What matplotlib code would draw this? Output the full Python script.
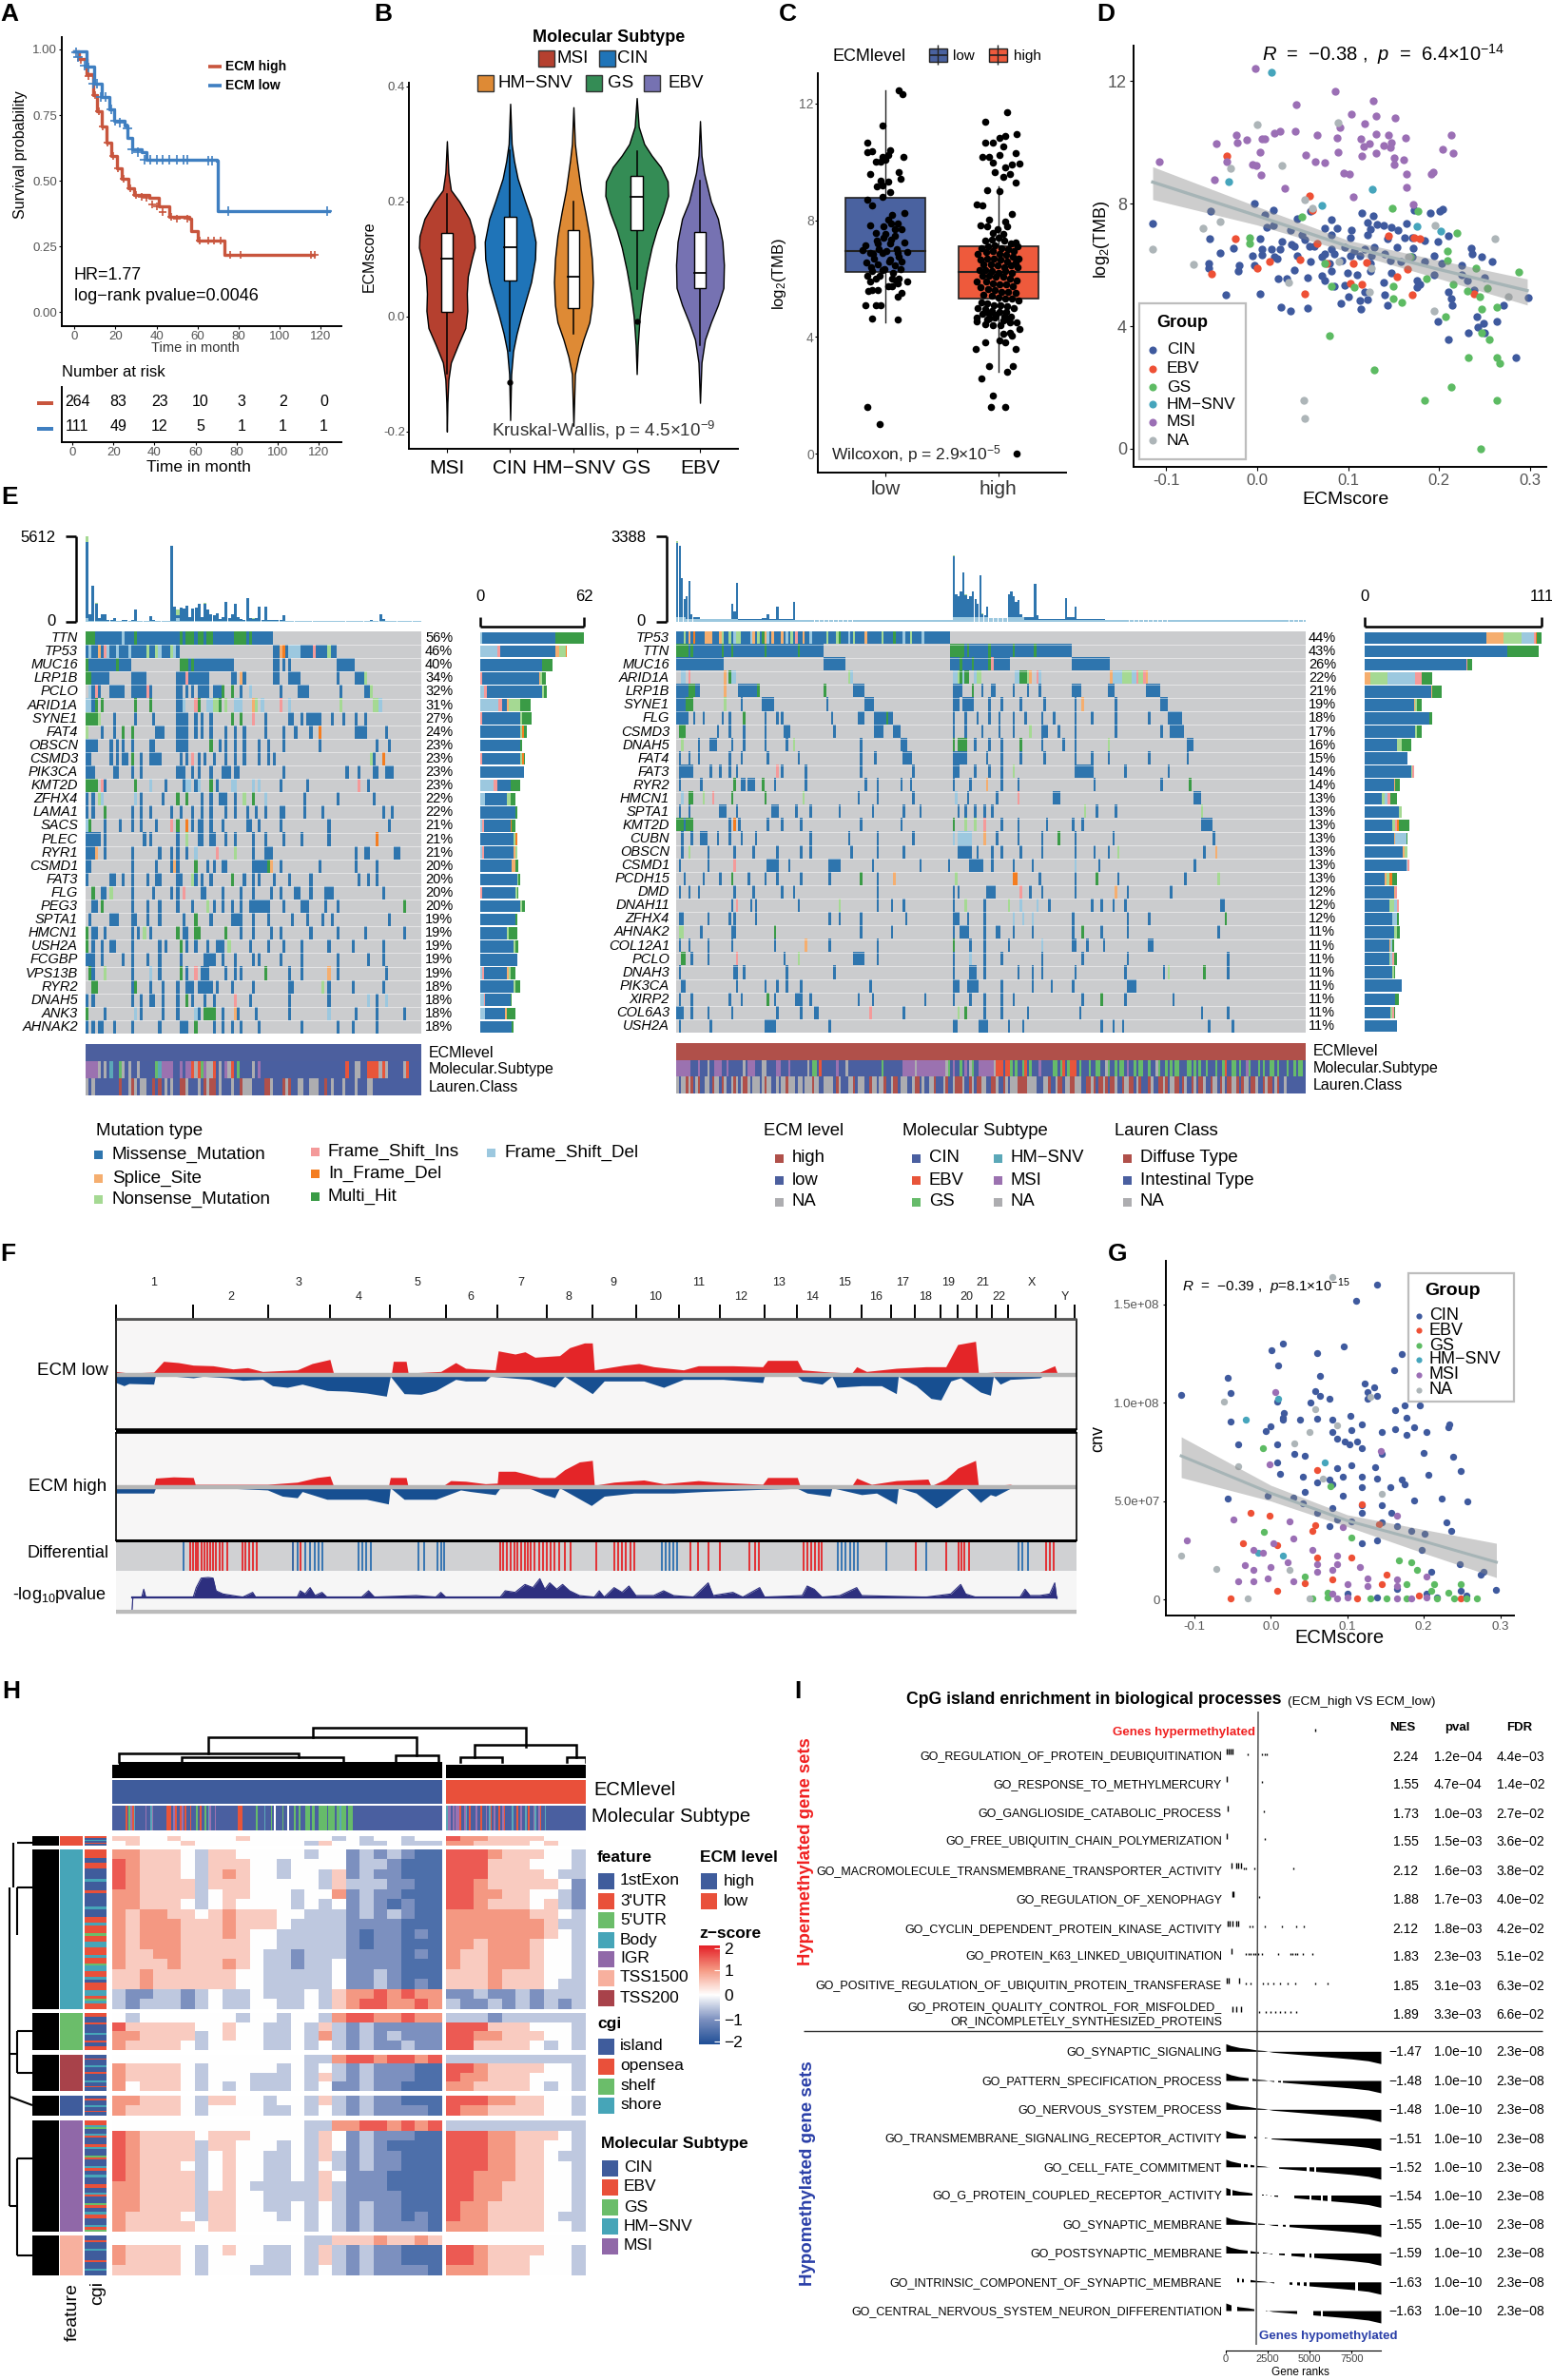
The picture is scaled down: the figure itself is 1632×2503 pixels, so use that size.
import re
import numpy as np
import matplotlib
matplotlib.use('Agg')
import matplotlib.pyplot as plt
import matplotlib.patches as patches
import matplotlib.colors as mcolors
from matplotlib.cm import ScalarMappable

plt.rcParams['font.family'] = ['Liberation Sans', 'DejaVu Sans']
plt.rcParams['mathtext.fontset'] = 'custom'
plt.rcParams['mathtext.rm'] = 'Liberation Sans'
plt.rcParams['mathtext.it'] = 'Liberation Sans:italic'
plt.rcParams['mathtext.bf'] = 'Liberation Sans:bold'
plt.rcParams['mathtext.default'] = 'regular'

W, H = 1633, 2503

# ---- A: survival
km_high_t = [0, 2.4, 6, 9.2, 11, 13.4, 15.8, 18.2, 20.6, 23, 26.2, 29, 36.4, 41.3, 46, 56, 57, 60, 72, 73, 116.6]
km_high_s = [.994, .964, .904, .825, .765, .705, .645, .596, .548, .506, .47, .446, .434, .404, .361, .355, .307, .273, .271, .219, .219]
km_low_t = [0, 6, 9.7, 13.4, 17, 19.4, 24.3, 26, 28, 32.8, 35.2, 69.2, 69.7, 123.9]
km_low_s = [.994, .934, .868, .819, .771, .729, .711, .663, .621, .608, .578, .576, .386, .386]
cens_high_t = [3, 7, 10, 12, 14, 16, 19, 21, 24, 27, 30, 33, 35, 38, 40, 43, 47, 50, 55, 61, 65, 68, 71, 76, 81, 115, 117]
cens_high_s = [.96, .90, .825, .765, .705, .645, .596, .548, .506, .47, .446, .44, .434, .41, .404, .38, .361, .355, .355, .273, .273, .273, .271, .219, .219, .219, .219]
cens_low_t = [1, 2, 5, 7, 9, 11, 13, 15, 18, 20, 22, 26, 28, 31, 34, 37, 40, 43, 46, 50, 53, 55, 65, 67, 75, 123]
cens_low_s = [.99, .97, .94, .93, .87, .87, .82, .82, .77, .73, .72, .70, .62, .61, .58, .578, .578, .578, .578, .578, .578, .578, .576, .576, .386, .386]
risk_times = [0, 20, 40, 60, 80, 100, 120]
risk_high = [264, 83, 23, 10, 3, 2, 0]
risk_low = [111, 49, 12, 5, 1, 1, 1]

# ---- B: violins (score, half width)
subtypes = ['MSI', 'CIN', 'HM−SNV', 'GS', 'EBV']
subtype_cols = ['#B5402F', '#1F74B8', '#DE8A35', '#348C55', '#7672B2']
vio_y = [
    [.305, .25, .22, .20, .17, .14, .12, .10, .07, .04, .01, -.02, -.05, -.08, -.11, -.15, -.20],
    [.37, .30, .27, .24, .20, .17, .13, .10, .06, .03, 0, -.03, -.06, -.10, -.18],
    [.364, .30, .27, .22, .18, .14, .10, .06, .02, -.01, -.04, -.07, -.10, -.19],
    [.38, .33, .30, .28, .26, .235, .21, .18, .15, .12, .08, .04, 0, -.05, -.10],
    [.34, .28, .25, .20, .17, .13, .09, .05, .02, -.01, -.04, -.08, -.15],
]
vio_w = [
    [0, 3, 8, 25, 45, 55, 56, 50, 42, 40, 41, 37, 22, 8, 3, 1, 0],
    [0, 3, 8, 15, 30, 42, 51, 50, 42, 32, 22, 13, 6, 2, 0],
    [0, 3, 7, 15, 24, 32, 37, 39, 37, 32, 20, 10, 3, 0],
    [0, 4, 15, 30, 48, 62, 63, 53, 40, 30, 20, 12, 6, 2, 0],
    [0, 3, 8, 22, 36, 45, 48, 47, 36, 22, 10, 3, 0],
]
box_q1 = [.008, .062, .014, .15, .05]
box_med = [.10, .12, .07, .209, .076]
box_q3 = [.145, .173, .151, .245, .147]
box_lo = [-.10, -.06, -.03, .047, -.05]
box_hi = [.213, .29, .20, .287, .236]
box_out_x = [1, 3]
box_out_y = [-.115, -.008]

# ---- C: TMB by ECM level (jitter offset, value)
c_low_x = [.12, .15, -.03, -.16, -.16, -.12, .04, .02, -.03, -.09, .16, -.04, 0, -.14, .12, .13, -.04, -.08, .02, -.03, .04, -.16, -.03, -.12, .17, .06, .02, .11, -.14, .14, 0, -.09, .08, -.18, -.07, .17, .04, -.2, -.14, -.03, .11, .19, -.17, -.07, .04, .14, -.12, -.01, .13, -.16, -.09, .06, .12, .19, -.14, .02, .11, -.12, -.07, -.15, .14, .11, -.09, -.04, -.18, -.12, .11, -.16, -.05,
           -.02, .05, .08, -.06, .1, -.1, .03, -.13, .07, -.05, .09, -.02, .05, -.11, .01, .08, -.08, .12, -.03, .06]
c_low_y = [12.45, 12.33, 11.26, 10.65, 10.35, 10.37, 10.4, 10.24, 10.18, 10.02, 10.18, 10.02, 10.08, 9.59, 9.64, 9.42, 9.37, 9.15, 9.32, 9.2, 8.97, 8.72, 8.8, 8.5, 8.26, 8.17, 8.01, 7.9, 7.83, 7.68, 7.52, 7.58, 7.47, 7.14, 7.2, 7.25, 7.2, 6.98, 6.87, 6.87, 6.87, 6.92, 6.54, 6.49, 6.65, 6.6, 6.27, 6.33, 6.33, 6.11, 6, 6, 6, 5.89, 5.89, 5.73, 5.84, 5.62, 5.62, 5.57, 5.51, 5.37, 5.08, 5.08, 5.08, 4.64, 4.59, 1.6, 1.0,
           7.4, 7.35, 7.7, 7.0, 7.0, 6.7, 6.6, 6.4, 6.2, 6.1, 5.95, 7.8, 7.9, 6.85, 6.95, 6.45, 7.3, 6.75, 6.3, 5.75]
c_high_x = [.08, -.12, .16, .06, .01, -.12, -.05, .04, .15, -.14, -.08, .01, -.05, .19, .12, .06, -.03, .1, .04, .15, -.1, .01, -.19, -.14, .12, -.08, .06, -.16, -.1, -.01, .08, -.05, .04, .15,
            -.12, -.06, 0, .05, .11, .17, -.15, -.09, -.03, .03, .09, .14, -.18, -.11, -.05, .01, .07, .13, .18, -.16, -.1, -.04, .02, .08, .15, -.13, -.07, -.01, .05, .11, .17, -.17, -.12, -.06, 0, .06, .12, -.14, -.08, -.02, .04, .1, .16, -.19, -.11, -.05, .01, .07, .13, -.16, -.09, -.03, .03, .09, .15, -.13, -.06, 0, .06, .12, .18, -.15, -.1, -.04, .02, .08, .14, -.18, -.12, -.06, .01, .07, -.14, -.08, -.02, .05, .11, -.19, -.1, -.03, .04, .1, .16, -.12, -.05, .02, .09,
            -.19, -.08, .1, .19, .04, .12, .01, .06, -.12, .15, -.2, -.08, .13, .08, -.15, -.05, .06, -.07, .16, .11]
c_high_y = [11.7, 11.38, 10.95, 10.9, 10.83, 10.67, 10.65, 10.54, 10.29, 10.18, 10.18, 10.24, 9.97, 9.93, 9.91, 9.8, 9.64, 9.59, 9.48, 9.28, 9.04, 9.01, 8.55, 8.5, 8.23, 8.01, 7.96, 7.83, 7.79, 7.68, 7.79, 7.58, 7.52, 7.25,
            7.3, 7.35, 7.4, 7.3, 7.2, 7.1, 7.05, 7.1, 7.15, 7.05, 7.0, 6.95, 6.85, 6.9, 6.95, 6.85, 6.8, 6.75, 6.7, 6.65, 6.7, 6.7, 6.65, 6.6, 6.55, 6.5, 6.5, 6.45, 6.4, 6.45, 6.4, 6.3, 6.3, 6.25, 6.2, 6.25, 6.2, 6.1, 6.1, 6.05, 6.05, 6.0, 5.95, 5.9, 5.9, 5.85, 5.8, 5.8, 5.75, 5.7, 5.65, 5.6, 5.55, 5.55, 5.5, 5.45, 5.4, 5.35, 5.3, 5.3, 5.25, 5.2, 5.15, 5.1, 5.1, 5.05, 5.0, 5.0, 4.95, 4.9, 4.85, 4.85, 4.8, 4.8, 4.75, 4.7, 4.7, 4.65, 4.6, 4.65, 4.55, 4.5, 4.5, 4.45, 4.4, 4.4,
            4.59, 4.53, 4.64, 4.15, 4.26, 4.1, 4.04, 3.88, 3.8, 3.8, 3.58, 3.58, 2.99, 2.99, 2.8, 2.58, 2.0, 1.59, 1.59, 0.0]

# ---- D: TMB vs ECMscore
group_names = ['CIN', 'EBV', 'GS', 'HM−SNV', 'MSI', 'NA']
group_cols = ['#3F5A9E', '#EE5035', '#5DBB63', '#46A5BC', '#9B6FB5', '#ADB5B8']
d_x = [
    [-.003, -.051, .018, .008, -.115, .044, .059, .082, .115, .128, .164, .19, .204, .201, .173, .01, .018, .037, .049, .074, .088, .104, .121, .124, .132, .139, .148, .155, -.052, .003, .027, .038, .052, .058, .082, .102, .121, .143, .162, .17, .184, .21, -.026, .005, .016, .025, .041, .063, .074, .082, .096, .107, .118, .129, .154, .172, .199, .235, -.041, -.005, .005, .019, .044, .071, .085, .102, .113, .126, .14, .17, .195, .236, .247, -.053, -.02, -.003, .022, .059, .08, .093, .124, .146, .158, .184, .203, .225, .258, -.053, -.021, .041, .071, .082, .099, .124, .148, .195, .225, .023, .032, .055, .074, .085, .096, .11, .139, .176, .176, .231, .25, -.035, .003, .1, .118, .14, .179, .21, .239, .092, .113, .121, .143, .026, .037, .055, .114, .213, .214, .271, .298, .242, .199, .249, .264, .243, .232, .21, .285, .25],
    [-.034, .058, .061, -.024, .066, .014, 0, -.05, .047, .076, .106, .12, .144, .173, .179, .165, .154, .103, .115, .052, .17, .238],
    [.149, .177, .22, -.008, -.008, .049, .209, .209, .241, .288, .168, .074, .107, .082, .186, .215, .231, .253, .15, .245, .247, .264, .15, .159, .207, .079, .247, .255, .232, .264, .267, .129, .213, .184, .264, .246],
    [.016, -.031, .127, .071, .176, .202],
    [-.002, .086, .043, .128, .104, .131, .152, .118, .091, .025, .019, .042, -.023, .066, .131, .144, .213, -.045, -.022, -.012, .005, .008, .088, .114, .163, .123, .117, .148, .139, .146, .003, .089, .204, .215, .053, .115, .131, .151, .161, -.108, -.034, .064, .074, .151, -.005, -.001, .095, .101, .004, .164, .194, .191, -.047, .03, .164, .106, .172],
    [0, .089, -.029, .027, .052, .061, -.041, -.06, .196, .262, -.115, -.07, .034, .09, .123, .126, .166, .195, .276, .051, .052],
]
d_y = [
    [7.99, 7.75, 7.79, 7.62, 7.36, 7.51, 7.74, 7.47, 7.69, 7.61, 7.36, 7.69, 7.81, 7.74, 7.79, 7.23, 7.28, 7.13, 6.97, 7.18, 7.18, 7.13, 7.38, 7.15, 7.31, 7.28, 7.23, 7.13, 6.85, 6.84, 6.77, 6.67, 6.82, 6.62, 6.97, 6.87, 6.97, 6.84, 6.87, 6.87, 6.8, 6.94, 6.54, 6.51, 6.51, 6.51, 6.62, 6.62, 6.36, 6.51, 6.56, 6.46, 6.51, 6.56, 6.56, 6.53, 6.75, 6.55, 6.38, 6.31, 6.33, 6.26, 6.31, 6.26, 6.36, 6.31, 6.31, 6.31, 6.36, 6.26, 6.31, 6.36, 6.28, 6.05, 6, 6, 6.21, 6.1, 6.05, 6.15, 6.05, 6.15, 6.1, 6.1, 6.05, 6, 6.1, 5.88, 5.79, 5.82, 5.64, 5.79, 5.74, 5.79, 5.74, 5.69, 5.69, 5.54, 5.54, 5.59, 5.49, 5.31, 5.33, 5.69, 5.44, 5.49, 5.28, 5.49, 5.59, 5.03, 5.07, 4.97, 5.13, 5.03, 5.38, 5.11, 5.18, 4.74, 4.85, 4.87, 4.69, 4.63, 4.51, 4.58, 4.56, 4.89, 4.67, 4.69, 4.93, 4.31, 4.15, 4.08, 4.15, 3.98, 3.79, 3.57, 2.98, 3.79],
    [9.55, 8.24, 7.79, 6.85, 6.7, 6.1, 5.9, 5.71, 6.18, 6.05, 6.05, 6.07, 6.94, 6.9, 6.84, 5.85, 5.62, 5.41, 5.36, 5.07, 5.03, 5.06],
    [7.84, 7.76, 7.03, 6.9, 6.7, 7.57, 6.46, 6.15, 5.88, 5.76, 6.26, 6.05, 5.28, 5.31, 5.56, 5.35, 5.16, 5.23, 5.3, 4.97, 4.56, 4.63, 4.9, 4.79, 4.31, 3.69, 3.79, 3.57, 2.98, 2.98, 2.8, 2.58, 2, 1.58, 1.58, 0],
    [12.28, 8.71, 8.48, 7.95, 7.27, 7.11],
    [12.41, 11.67, 11.23, 11.35, 10.92, 10.85, 10.79, 10.61, 10.49, 10.36, 10.31, 10.36, 10.24, 10.24, 10.28, 10.24, 10.24, 9.97, 10, 10.07, 10.1, 10.12, 10.15, 10.12, 10.15, 9.97, 9.87, 10, 9.88, 9.83, 9.69, 9.69, 9.76, 9.64, 9.59, 9.56, 9.63, 9.49, 9.42, 9.38, 9.36, 9.38, 9.35, 9.26, 9.28, 9.23, 9, 8.97, 8.93, 8.96, 9.03, 8.97, 8.77, 8.49, 8.54, 8.21, 7.98],
    [10.59, 10.65, 9.16, 9.24, 8.13, 7.85, 7.41, 7.21, 7.28, 6.86, 6.51, 6.03, 5.42, 6.1, 5.13, 5.9, 6.26, 4.51, 4.95, 1.58, .99],
]
d_fit_x = [-.115, 0, .1, .2, .297]
d_fit_y = [8.7, 7.6, 6.6, 5.85, 5.16]
d_fit_lo = [8.13, 7.3, 6.42, 5.55, 4.69]
d_fit_hi = [9.2, 7.9, 6.8, 6.15, 5.54]

# ---- E: oncoplots; tokens are sample indices, letter gives the mutation type
mut_letters = ['m', 'f', 'i', 's', 'n', 'd', 'h']
mut_names = ['Missense_Mutation', 'Frame_Shift_Del', 'Frame_Shift_Ins', 'Splice_Site', 'Nonsense_Mutation', 'In_Frame_Del', 'Multi_Hit']
mut_cols = ['#2E75AE', '#9CC8DF', '#F49A9A', '#F5AE6F', '#A5D993', '#F47D20', '#3A9B46']
grey_cell = '#CBCCCE'
low_genes = ['TTN', 'TP53', 'MUC16', 'LRP1B', 'PCLO', 'ARID1A', 'SYNE1', 'FAT4', 'OBSCN', 'CSMD3', 'PIK3CA', 'KMT2D', 'ZFHX4', 'LAMA1', 'SACS', 'PLEC', 'RYR1', 'CSMD1', 'FAT3', 'FLG', 'PEG3', 'SPTA1', 'HMCN1', 'USH2A', 'FCGBP', 'VPS13B', 'RYR2', 'DNAH5', 'ANK3', 'AHNAK2']
low_pct = [56, 46, 40, 34, 32, 31, 27, 24, 23, 23, 23, 23, 22, 22, 21, 21, 21, 20, 20, 20, 20, 19, 19, 19, 19, 19, 18, 18, 18, 18]
low_muts = [
    "0-2h 3-11 12f 13-15 16h 17-30 31h 32 33-35h 36 37-38h 39 40-41h 42-48 49-52h 53 54h 55-61",
    "0 1f 2-3 4s 5 6i 7f 8-9 10f 11 12-13 14f 15-18 19 20n 21-22 23n 24f 25-27 28n 29f 30 62-63 64s 65d 66 67-70f 71-73 74 75i 76-79 80n 81 82",
    "0h 1 2-9 10h 11-13 14 31-33h 34 35h 36-48 62-63 65 67 83-88",
    "0-1h 2 3-7 15-19 30-32 33i 34-40 48-49 51s 52 62-63 67-70 83 89-91 92n",
    "1f 2 3i 4 8-12 15-19 20i 21 30-31 33 35 37-40 42-44 45h 48h 51 54f 64 70-73 84 92-93 94n",
    "0-1f 2 3h 5h 16h 21h 30-31 32f 36i 37h 40-41f 42-43n 44h 46n 49f 50-51f 55s 56n 58f 64i 67f 84n 95-96n 97f",
    "0-3h 4n 9 16 22 30-33 36 38 41 48h 51h 55i 59 67-68 71 73-77 81 85 89 92",
    "0n 5 9 12h 15h 23-25 30-33 36 38 41 46 49 52 59 65 69 74 77d 89-91 92 99",
    "0-3 8 10 12 15 21-22 30-33 41h 44 46 49 52 57 60 65 77 96 100",
    "0-1 8 10 12-13 15h 18 21-24 31 33 35i 37 39 42 46 49 52 57 60 62 94n 95 98d",
    "0-2 9 10 15 18 30-32 35 37 41 45-47 49-50 65 86 90 95-96 99-101",
    "0-3h 5i 6 16h 21f 26 32 33f 34f 36 37f 41h 43 48-49f 55f 57f 64 73 90i 93",
    "0 2 4n 5f 16f 18 25 30h 33h 38 41 44-46 49 52n 55h 59f 72 83 95",
    "0 2 6h 15 18 21 28 31 35 38 41 46 49 53 56 59 64-65 72 78 98 101",
    "0f 1h 6 11 15 18 23 28i 30h 33d 35 37-38 41 45 53-54 57 64 80 100",
    "0-4 6 19 21 30 33n 37-38 41-42 46 49 55 59 65 71 80 96d",
    "0-2 3s 6 15 24 28 30 33 36f 43i 49n 55 59-61 89 92-93 102-103",
    "0-1 15 23 28 29s 30 36h 40 42 45-46 55-59 60h 61s 64 77 89 96",
    "0 8-9 12 15 20 23-24 30 31 35n 36 38 41 48h 52 55 57 62 67 74 90 93 96",
    "2h 5-6 8n 15 22 28 30 32i 38-39 45 51 55 61 64 69-70 74 79-81 98",
    "2-3 5h 15 20 24 30 35 40n 42 45 48 51 54-59 60 65 71-73 79 83 105h",
    "1 8-10 15-16 20 24 32 36h 41 48-51 55 60 68 73 78 81 100",
    "0h 2-3 6 15 17 19n 21 30h 32-33 36-37h 46h 51 55 61 64 74 83 92 105",
    "0h 2 5 8-9 15 24 26 31h 33 36 40 43-45 47n 54 60 65 71 80 88 98",
    "0-2 5 12 15 20 24 31 39-42 45 49 55 57 64 71 83 93 98",
    "1h 2 6n 15 21f 24 31h 33 36i 38-40 46 49 51 59h 67 71 80s 83 99",
    "2-3h 15 16h 21 25 30 33-35 37-41 43 48 55 67-68 78n 80 88 98",
    "0 2 15 18 21-22 25 30 33h 35 39 42 49i 54 67 80 93f 96 99f",
    "0h 6 16f 18 25 30 36f 37 39-42h 45 49s 50 56 67 80f 89 96 105",
    "0 2 4-5 9 15 24 31-33 36h 42 45 48 51 57 71 83 88 96",
]
high_genes = ['TP53', 'TTN', 'MUC16', 'ARID1A', 'LRP1B', 'SYNE1', 'FLG', 'CSMD3', 'DNAH5', 'FAT4', 'FAT3', 'RYR2', 'HMCN1', 'SPTA1', 'KMT2D', 'CUBN', 'OBSCN', 'CSMD1', 'PCDH15', 'DMD', 'DNAH11', 'ZFHX4', 'AHNAK2', 'COL12A1', 'PCLO', 'DNAH3', 'PIK3CA', 'XIRP2', 'COL6A3', 'USH2A']
high_pct = [44, 43, 26, 22, 21, 19, 18, 17, 16, 15, 14, 14, 13, 13, 13, 13, 13, 13, 13, 12, 12, 12, 11, 11, 11, 11, 11, 11, 11, 11]
high_muts = [
    "0-2 3n 4 5s 6 7d 8-11 12s 13-14s 15-17 18s 19n 20-21 22n 23 24f 25-26n 27-30 31f 32s 33 34n 35 36h 37s 38f 39 40s 41-43 44s 45 46f 47 48n 49 50i 51-52 53s 54-55 56f 57-62 63n 64-66 67n 68h 69-71 72f 73 74n 75 76-78 79s 80-85 86n 87-90 91h 92-94 95f 96-97 98n 99-102 103f 104-114",
    "0-4h 5 6h 7-18 19h 20 21-22 23h 24-36 37h 38-50 51h 52-61 115-120h 121 122h 123-130 131h 132-138 139-140 141h 142-149 150h 151-165",
    "0-19 62-70 115-118 119h 120-123 124h 125-130 131h 132i 133-139 166-181",
    "2-3f 5i 20s 22h 23-24f 72n 73f 116-117f 118n 119h 120f 121-122h 125f 126-127n 142-143f 144-146h 147n 148s 151i 152f 182s 183-186f 187-190n 191-192f 193i 194-195n 196i 197s",
    "0-4 5-7h 8-9 20s 26-33 34h 62h 74-78 116-119 124h 128 132-133 141 147 152 166-169 181-183 197-202",
    "0-3 4-6h 20n 27 36-40 63 79-82 116-118 120-124 131 136 144 154 167 170s 184 203-205",
    "0-4 7 11 19 22 28h 37 42 44 65 76-78 83-87 88h 89-90 116 121 126 131 135 141 146 153 158 167 174 184 198 206-211",
    "1-3h 17 22 28 37 45-47 66 83-86 91-93 116 121 128 135 141 148n 153-155 160 167 184 203 207-212",
    "2n 9 14-16 23 28 37 46 49n 77 94-96 116h 118-121h 125 131 136 144h 153 162 167 181n 214-216",
    "1 5 9 22 27 38 51 77 83 95-98 116-121 130 136 144 154 167 174 181 198 214",
    "1-6 14 18 22 25 42i 44 54 77 99 116-118 125 131 136 141n 167-174 188 206",
    "1 10 24h 27-28 30-32 36h 41 54 79 84 94 98 116 123 130s 136 143 175 203 215h",
    "2f 5-6h 11n 15i 23h 37h 53n 76 84 99 117f 122 134 143i 158-160 217-219",
    "1 5 18-20 25 40-42 50 56 68 82 95 102 118 121 125 129 132 171n 176 184 220n",
    "0-2h 3 4-6h 22 24d 26 38 44 52 77 94 116h 121n 125n 129i 136 143 155 166 170 220-224",
    "2 6 10-12 17 22 27 33 56 72 84 99 116f 118-123f 129s 134 143 153 160h 167 183 225",
    "2 5n 13 24 32 42 52 56 73 84 95 118-123 126 132 136 144 153 167 175 181 185n 221 226s",
    "1 13 24i 38-42 47 64-68 82 102 114 123-128 132 141 149 167f 177 217",
    "3 11 18 23h 30 37 42 52 64 77h 84 91s 117n 141-142d 152 167 176h 185 213 227n",
    "1 5 9 24 32 44 49 84 116 118 130-133 144i 148 153 167 184s 189 207",
    "23 25i 31 33 51 68n 84 90 95 116 121n 129 139n 144f 151f 156 174 178 183 188 228-229",
    "1-2 13 22 24 33 64 68 77 96 116-118 122 129 141f 145f 149f 166 189 198 230h",
    "1-2n 10 23-24 41h 77 90 116 119-122 129 134-135 141 149 166 170h 178 189 227",
    "1 5 13 23 41 54s 64 84 116h 123 129 139 153f 166-167 172 179 198-199",
    "2-3h 6 13 25i 45 51n 74-78 84 116 123f 129 136 153 170 189 231",
    "1 24-25 28 46 66 116 123-125 129 143 149 153 167 188 204 206n 221h 231",
    "2-3 25 37 42 46 52 81 116-118 122-126 136 149 157 166 189-192",
    "1 6 22 27 38h 41 50-52 56 76 82 104 116 123 129 136 141 170 178h 188 208",
    "0-2 6 13 23 42 52 58-59 81i 95 118n 121h 129 136 147 169 220 231",
    "1 14 37-41 64 116-117 127-130 139 145 178 183 187 223 233",
]
# mutation burden per sample, value*count
low_burden = "5612 500 2400 1260 250 470*2 100 110 270 90*2 150 100 80 120 840 90 80 90 70 380 100 60 70 50*2 90 5000 1000 800 950 900 1050 300 850 950 1200 300 1250 800 500 450 550 200 300 1300 250 500 1200 300 200 150 1550 250*3 1000 150 1000 100*5 420 80*4 60*3 50 70*5 40*4 60*6 80 50*4 150 70 60 520 200 80*4 50*13"
low_base = "260*1 90*4 70*25 260 90*20 60*60"
low_cap = {0: 380, 30: 340, 3: 80, 39: 70, 55: 70}
high_burden = "3200 3000 1750 900 1000 1600 300 200*3 120*13 700 400 1550 120*10 150*2 300 120*3 600 100*6 800 90*20 70*46 2650 1100 1000 1200 1950 1100 900 1000 1200 900 700 1850 350 250 600 150*8 1100 1200 1000 800 850 300 200*5 1500 250 120*11 950 200*3 600 100*12 70*93"
high_base = "170*4 100*22 60*90 170*30 80*118"
high_cap = {0: 60, 116: 60, 121: 50, 128: 50}
# annotation rows, letter and run length
low_subtype = "M4 N1 C1 N1 C1 H1 C2 G1 N1 C1 N1 C2 N1 C5 G1 H1 M4 C2 M1 C1 M2 E1 N1 E1 G1 M1 N2 E1 C1 N1 C1 M1 N1 E1 C1 G1 C4 N1 C1 M1 C28 E1 C2 N2 C2 E4 N1 E1 N1 C5 N1 E1 C4"
low_lauren = "N1 I1 N1 I8 D1 I2 N1 D1 N1 I1 N2 I2 D1 I1 D1 I1 N1 I1 N1 I2 D2 N1 I3 N1 I1 D1 N1 D2 I1 N1 I3 N1 I2 D1 N3 I4 D2 N1 I3 D1 N1 D1 I2 N2 I2 N3 I2 D1 I1 N1 I3 N1 I3 N1 I3 N2 I3"
high_subtype = "M6 C3 M1 C3 N1 C2 M3 C2 M1 C6 N1 C1 M3 C3 N2 C4 M2 C3 M1 C7 N1 C1 G2 C1 E1 C6 M1 C3 N1 C14 G1 C8 M5 N1 M12 N1 G1 C1 M1 C2 G1 C1 M1 C1 N1 G1 C2 M6 N1 E3 C1 E2 G1 C1 G1 C2 G1 E1 C1 G1 C3 M1 C5 G2 C1 G1 E1 C1 G1 E3 C1 G1 C3 G1 C2 G2 C2 N1 G1 C2 G1 C1 G2 C1 M1 C2 G1 C1 G2 C2 G1 C2 N1 G1 C2 G1 C1 G1 C1 G2 C3 G2 C1 G1 C1 G1 C2 G1 C3 G1 C2 G1 E1 C2 G2 C1 G1 C2 M1 G1 C3 G1 C1 G1 C2 G2 C1 G1 C3 G1 C2 G1 C1 G2 C2 N1 C1 G1 C2 G1 C1 G1 C2 G1 C1"
high_lauren = "N1 I1 N2 D1 N1 D1 I1 N1 D1 I2 N2 I1 D1 N2 I1 D1 N1 I2 N1 D1 N1 I1 N1 D2 N1 I1 N3 I1 N1 D1 N2 I2 N1 I1 N2 D1 N3 I1 N2 I1 N3 D1 N2 I2 N4 I1 D1 N1 I3 N2 D1 I1 N3 I2 D1 N2 I1 N2 D1 I2 N1 D2 I1 N3 I2 N1 D2 I1 N1 I2 N2 D1 I3 N1 D1 I2 N1 D3 N1 I2 D1 N1 I1 D2 N2 I2 D2 N1 I2 D1 N1 I1 N3 D4 N4 I3 N2 D1 I2 N1 D2 I1 N2 D2 N3 I2 D2 N1 D1 I1 D2 N1 D1 I1 D2 N1 I2 D1 N2 D2 I1 N1 D1 I3 D1 N1 I2 D2 N1 D1 I1 N2 D2 I1 D1 N1 I2 D1 N1 I1 D2 N1 I2 D1 N2 I1 D1 N1 I1 D2 N2 D1 I1 D1 N2 I1 D2 N1 I2 D1 N1 D2 I1 N1 D1 I2 N1"

# ---- F: copy number profile along the genome
chr_edges = [117, 195, 271, 333, 394, 450, 502, 552, 598, 642, 686, 727, 772, 805, 838, 870, 900, 924, 950, 967, 986, 1002, 1018, 1066, 1085]
chr_names = ['1', '2', '3', '4', '5', '6', '7', '8', '9', '10', '11', '12', '13', '14', '15', '16', '17', '18', '19', '20', '21', '22', 'X', 'Y']
chr_mid = [155, 233, 301, 362, 421, 475, 526, 574, 619, 662, 705, 748, 786, 820, 853, 884, 911, 934, 957, 976, 992, 1009, 1042, 1075]
low_amp_x = [117, 130, 155, 165, 180, 195, 215, 235, 250, 265, 300, 315, 333, 337, 395, 397, 410, 412, 445, 460, 470, 500, 503, 520, 530, 540, 565, 575, 590, 598, 600, 630, 645, 660, 690, 705, 740, 770, 775, 805, 810, 838, 860, 865, 875, 905, 935, 955, 967, 985, 988, 1005, 1030, 1050, 1065, 1068]
low_amp_y = [.10, .05, .08, .42, .38, .30, .28, .18, .22, .10, .15, .35, .48, 0, 0, .42, .42, .05, .10, .38, .20, .15, .75, .65, .72, .55, .60, .85, 1.0, 1.0, .15, .30, .35, .25, .15, .28, .28, .25, .45, .45, .15, .08, .05, .25, .10, .20, .25, .25, .95, 1.05, .05, .08, .08, .08, .28, 0]
low_del_x = [117, 125, 130, 155, 157, 195, 205, 230, 245, 265, 275, 290, 305, 330, 350, 370, 390, 394, 408, 425, 440, 460, 470, 490, 495, 535, 550, 560, 570, 598, 610, 650, 670, 690, 730, 770, 772, 805, 810, 830, 840, 845, 870, 890, 905, 907, 925, 940, 950, 960, 970, 990, 1000, 1003, 1010, 1020, 1050, 1055]
low_del_y = [.25, .35, .28, .30, 0, .10, .05, .10, .18, .15, .35, .40, .30, .50, .52, .58, .68, .05, .60, .62, .50, .15, .20, .20, .05, .15, .30, .40, .05, .60, .20, .20, .40, .15, .15, .25, .03, .05, .20, .30, .05, .40, .35, .35, .60, .05, .35, .75, .80, .20, .10, .55, .65, .05, .30, .15, .10, 0]
high_amp_x = [117, 155, 157, 175, 195, 197, 215, 240, 270, 300, 320, 333, 337, 392, 394, 410, 412, 448, 455, 470, 490, 502, 503, 520, 545, 560, 570, 585, 598, 600, 620, 650, 670, 705, 725, 770, 775, 805, 808, 860, 865, 880, 905, 937, 940, 955, 967, 985, 988, 1020, 1030, 1060, 1068]
high_amp_y = [0, .02, .28, .32, .30, .08, .08, .08, .08, .15, .30, .35, 0, 0, .30, .30, 0, .05, .20, .18, .10, .12, .50, .50, .30, .30, .55, .80, .85, .05, .15, .22, .10, .20, .15, .08, .30, .30, 0, .03, .28, .08, .20, .25, .03, .25, .60, .85, 0, .08, 0, .05, 0]
high_del_x = [117, 155, 157, 235, 270, 285, 300, 305, 330, 370, 392, 394, 408, 440, 465, 475, 500, 505, 535, 550, 560, 565, 597, 610, 640, 680, 710, 770, 805, 815, 838, 840, 870, 885, 905, 907, 925, 945, 950, 970, 975, 990, 1000, 1005, 1020, 1035, 1040]
high_del_y = [.20, .20, .03, .05, .10, .30, .35, .15, .40, .40, .55, .03, .40, .40, .10, .15, .25, .03, .05, .25, .35, .03, .60, .30, .20, .20, .15, .08, .05, .20, .30, .03, .25, .20, .55, .03, .20, .68, .60, .10, .03, .50, .25, .30, .05, .03, 0]
diff_red = [192, 195, 198, 200, 203, 206, 209, 212, 215, 218, 222, 225, 229, 245, 248, 251, 255, 259, 296, 303, 505, 508, 512, 516, 519, 522, 526, 530, 533, 536, 540, 544, 548, 552, 556, 560, 565, 570, 576, 602, 620, 624, 628, 632, 637, 640, 697, 705, 715, 727, 757, 762, 766, 811, 815, 819, 823, 827, 830, 925, 955, 968, 971, 974, 978, 1056, 1060, 1064]
diff_blue = [185, 296, 300, 308, 313, 318, 322, 325, 362, 366, 370, 374, 422, 428, 442, 445, 448, 668, 672, 676, 680, 684, 846, 850, 854, 858, 862, 866, 895, 935, 1028, 1032, 1038]
logp_x = [133, 134, 143, 145, 147, 195, 198, 203, 210, 215, 218, 225, 245, 255, 258, 300, 303, 308, 313, 318, 325, 330, 365, 372, 378, 420, 440, 445, 450, 505, 510, 520, 530, 538, 545, 550, 555, 562, 568, 575, 585, 600, 605, 610, 620, 628, 635, 642, 660, 670, 680, 700, 715, 720, 740, 750, 767, 772, 810, 815, 822, 830, 848, 865, 870, 935, 960, 970, 975, 985, 1030, 1035, 1040, 1050, 1060, 1065, 1067]
logp_y = [-4.8, 0, 0, 2.5, 0, 0, 3, 6, 6.2, 6, 2, 1, 0, 1.5, 0, 0, 2, 1, 3, .5, 1.5, 0, 0, 2, 0, .5, 0, 1.5, 0, 0, 2, 1.5, 4, 3, 5.8, 2.5, 4.5, 2.5, 4, 2, .5, 0, 2, 0, 3, 1.5, 3.5, .5, .5, 2, .5, 0, 4.5, .5, 1.5, 0, 3, 0, .5, 3.5, 2.5, 0, .5, 3, .5, 0, 1, 4, 1, 0, 0, 2.5, .5, .5, 1, 4.5, -.5]

# ---- G: cnv vs ECMscore (1e7 units)
g_x = [
    [.139, .112, .016, .001, .095, .061, .171, .01, .161, .064, -.056, .123, .135, .126, .139, -.117, -.053, .058, .077, .065, .052, .009, .126, .175, .195, .162, .017, .016, -.052, .061, .081, .104, .038, .178, .234, .232, .016, 0, -.006, -.043, .119, .081, .087, .106, .188, .162, .145, .178, .204, .097, .113, .119, .103, .009, .031, .044, .145, .2, .239, .249, .136, .106, .087, .077, .009, .012, .042, .094, .119, .139, .171, .206, .175, .156, .119, .081, .061, -.056, -.004, .029, .045, .094, .119, .145, .223, .188, .257, .081, .119, .158, .061, .042, .087, .106, .145, .165, .23, .077, .184, .201, .236, .139, .119, .197, .247, .278, .21, .275, .249, .295, .165, .204, .1, .139, .217, .256],
    [.061, .119, -.026, -.001, .058, .055, .142, -.036, .009, .106, .061, .045, .081, .009, .152, -.052, .145, .249, .194, .113],
    [-.01, .078, -.009, .106, .045, .168, .184, .191, .178, .213, .249, .074, .074, .13, .152, .178, .21, .217, .24, .256, .269, .232, .055],
    [-.032, .01, .07, .016, -.017],
    [.006, -.001, -.049, -.11, .144, .165, .025, .094, .003, .029, -.023, -.01, -.034, 0, -.023, .022, .061, .087, .055, .087, -.043, -.004, -.023, .029, .061, .081, .116, .126, .165, .204, .1, .126, .165, .081, .1, .165, .184, .087, .204],
    [.081, -.061, .058, .13, .051, .031, .087, -.043, .068, .145, -.117, -.071, .025, -.03, .051],
]
g_y = [
    [15.97, 15.15, 13.02, 12.66, 12.86, 12.53, 12.48, 11.89, 11.65, 11.37, 11.24, 10.97, 10.76, 10.52, 10.36, 10.4, 10.48, 10.56, 10.19, 10.36, 9.98, 10.07, 10.19, 9.87, 9.84, 9.63, 9.47, 9.23, 9.03, 9.19, 9.15, 9.31, 9.15, 9.23, 8.9, 8.74, 9.15, 8.77, 8.53, 7.89, 8.9, 8.5, 8.18, 8.58, 8.74, 8.66, 8.5, 8.34, 8.5, 8.02, 8.02, 7.69, 7.86, 7.86, 7.37, 7.29, 7.37, 7.42, 7.24, 6.53, 6.73, 6.81, 6.65, 6.08, 6.97, 6.4, 6.24, 6.24, 6.24, 6.16, 6.08, 6.32, 5.84, 5.68, 5.68, 5.84, 5.92, 5.11, 5.27, 5.19, 5.44, 5.27, 4.79, 4.79, 5.11, 5.03, 4.98, 4.63, 4.39, 4.39, 4.39, 4.87, 4.06, 3.98, 3.9, 3.74, 3.9, 3.74, 3.5, 3.34, 3.5, 3.02, 2.85, 2.53, 1.81, 1.4, 1.4, 1.24, .44, .47, .52, .27, .27, .11, .11, .19],
    [6.56, 4.82, 4.39, 4.27, 3.79, 3.5, 3.82, 2.85, 2.77, 2.13, 2.13, .84, 1, .44, 1.24, .03, .76, .03, .19, .03],
    [7.66, 5.76, 3.42, 3.15, 1.16, 1.97, 1.89, 1.48, .76, .76, .76, .35, .11, .03, .03, .03, .44, .03, .03, .03, .03, .35, .03],
    [9.11, 10.19, 6.97, 2.21, 2.37],
    [10.52, 6.86, 4.06, 2.98, 7.56, 4.23, 3.98, 3.66, 2.85, 3.1, 2.53, 2.37, 1.76, 1.65, 1.48, 1.89, 1.81, 1.81, 2.53, 2.21, .92, 1.08, .92, .92, 1.4, 1.48, 1.65, 1.08, 1, 1.16, .76, .68, .68, .27, .11, .03, .03, .03, .11],
    [16.4, 10.07, 9.66, 10.27, 8.5, 7.94, 8.82, 6.76, 6.13, 5.36, 2.21, 1.56, 1.48, .03, .03],
]
g_fit_x = [-.117, 0, .1, .2, .295]
g_fit_y = [7.29, 5.4, 4.0, 2.95, 1.89]
g_fit_lo = [6.19, 5.0, 3.7, 2.35, 1.11]
g_fit_hi = [8.26, 5.8, 4.3, 3.55, 2.85]

# ---- H: methylation heatmap, z-score steps 0..8 -> -2..2
feature_names = ['1stExon', "3'UTR", "5'UTR", 'Body', 'IGR', 'TSS1500', 'TSS200']
feature_cols = ['#3F5C9C', '#E9503A', '#6BBD6A', '#46A5B8', '#9068A8', '#F7B09E', '#A8424A']
cgi_names = ['island', 'opensea', 'shelf', 'shore']
block_feature = [1, 3, 2, 6, 0, 4, 5]
block_left = [
    ["554454444544444434344344", "454445444444443544334333"],
    ["665554355444443442323211", "765554355544344442332111", "765554356544344352322111", "765555355544444353332211", "665555345544434462322111", "665554345444434342321211", "656655456555443332323211", "656665556555433332222111", "656665556544333332122121", "656665555544333332122111", "655665555543323332222121", "655565556543323342222111", "556555555443333342232111", "556555555443333342232121", "322332343343334356676766", "323332343344334356776676"],
    ["434444444344344367766766", "755555445443343532322222", "665555345443343632323222", "655554344443343432322322"],
    ["444444444444443367767767", "655554344444343432322211", "655554344433343532322211", "645554343433343422322111"],
    ["665554355443443532322111", "655554344443343432322221"],
    ["444444444444443366776767", "765555455544443542322211", "765555355444343542321111", "765555345443343532322111", "765554345443343432322111", "765555345443343542221111", "665555345433333532221111", "665555355443333532222111", "665555355443343432322111", "655554355444343432322121", "655555455444443432322221"],
    ["444444444444443355565565", "655554345443343532322111", "655554344443343532322111", "555554344433343432322221"],
]
block_right = [
    ["7665555444", "6655554544"],
    ["7776555443", "7775554443", "7775555433", "7765555542", "7766554432", "7765554532", "6666665543", "6666666533", "6666666543", "6656665443", "6556665443", "6556665443", "5556555443", "5556555433", "2232232333", "3223232323"],
    ["3332333333", "7775554443", "7766555443", "7755554343"],
    ["3333333333", "7765555443", "7665554443", "6655554343"],
    ["7776655443", "7665555443"],
    ["3333333333", "7776655543", "7776655443", "7776655433", "7776655443", "7766655443", "7766555443", "7766555443", "7665555443", "7665555433", "6665555443"],
    ["4444444444", "7765555443", "7765554443", "6665554443"],
]
block_cgi = [
    "O2 I3 T1 I2 O2 I2",
    "O3 I2 O2 I4 T1 I3 O1 I5 T1 I3 O2 T1 O3 G1 O2 T2 O3 T1 O2 G1 T2 O2 T1 I1 O3 T2 O1 G1 T1 O2",
    "O2 I3 O1 I4 T1 I3 O1 I2 O2",
    "I2 O1 I3 T1 I3 O1 I4 T1 I2 O1 I2",
    "I2 O1 I3 T1 I2 O1 I2",
    "O2 T1 G1 I2 T1 O1 I3 O1 T1 I3 G1 O1 I3 T1 O1 I2 T1 I3 O2 I2 T1 O1 I3 G1 O1 I2 T1 O2 I3 T1 O1 G1",
    "I2 O1 I3 T1 I4 O1 I3 T1 I2",
]
col_subtype_left = "C8 E1 C1 G1 M1 E1 H1 C6 M1 C2 H1 M1 C8 E3 C1 M1 E1 C2 E1 M1 C1 E1 C2 E1 C3 G1 C1 E1 C2 G1 C1 H1 M1 C2 M1 C13 E3 C8 G1 C4 H1 C3 G1 C1 W1 C4 G1 C2 W1 C3 G1 C2 G1 C3 G3 C1 G2 C2 G5 C1 G4 C1 G2 H1 G3 C1 G3"
col_subtype_right = "H1 M2 C1 M1 C1 M2 E1 C2 M1 H1 C1 E1 C3 M1 C2 E1 C2 M1 C1 H1 E1 C1 M1 C2 E1 C1 M1 E1 C4 H1 C2 E1 C1 M1 C2 H1 C1 E1 C2 M1 H1 C1 M1 E1 C2 H1 C1"

# ---- I: enrichment table
hyper_names = ['GO_REGULATION_OF_PROTEIN_DEUBIQUITINATION', 'GO_RESPONSE_TO_METHYLMERCURY', 'GO_GANGLIOSIDE_CATABOLIC_PROCESS', 'GO_FREE_UBIQUITIN_CHAIN_POLYMERIZATION', 'GO_MACROMOLECULE_TRANSMEMBRANE_TRANSPORTER_ACTIVITY', 'GO_REGULATION_OF_XENOPHAGY', 'GO_CYCLIN_DEPENDENT_PROTEIN_KINASE_ACTIVITY', 'GO_PROTEIN_K63_LINKED_UBIQUITINATION', 'GO_POSITIVE_REGULATION_OF_UBIQUITIN_PROTEIN_TRANSFERASE', 'GO_PROTEIN_QUALITY_CONTROL_FOR_MISFOLDED_\nOR_INCOMPLETELY_SYNTHESIZED_PROTEINS']
hyper_nes = ['2.24', '1.55', '1.73', '1.55', '2.12', '1.88', '2.12', '1.83', '1.85', '1.89']
hyper_pval = ['1.2e−04', '4.7e−04', '1.0e−03', '1.5e−03', '1.6e−03', '1.7e−03', '1.8e−03', '2.3e−03', '3.1e−03', '3.3e−03']
hyper_fdr = ['4.4e−03', '1.4e−02', '2.7e−02', '3.6e−02', '3.8e−02', '4.0e−02', '4.2e−02', '5.1e−02', '6.3e−02', '6.6e−02']
hyper_ranks = [
    [59, 176, 293, 381, 1290, 2170, 2316, 2461],
    [30, 2140],
    [88, 2256],
    [30, 2344],
    [352, 615, 762, 908, 1055, 1200, 1700, 4014],
    [381, 469, 1992],
    [117, 234, 381, 615, 762, 1406, 1582, 2344, 3340, 4219, 4630],
    [322, 1200, 1348, 1494, 1641, 1787, 1934, 2168, 3106, 3838, 3985, 4131, 4278, 4571, 5157],
    [30, 176, 820, 1200, 1494, 2227, 2520, 2813, 3252, 3692, 4131, 5362, 6094],
    [381, 615, 908, 1992, 2373, 2666, 2959, 3252, 3545, 3838, 4219],
]
hypo_names = ['GO_SYNAPTIC_SIGNALING', 'GO_PATTERN_SPECIFICATION_PROCESS', 'GO_NERVOUS_SYSTEM_PROCESS', 'GO_TRANSMEMBRANE_SIGNALING_RECEPTOR_ACTIVITY', 'GO_CELL_FATE_COMMITMENT', 'GO_G_PROTEIN_COUPLED_RECEPTOR_ACTIVITY', 'GO_SYNAPTIC_MEMBRANE', 'GO_POSTSYNAPTIC_MEMBRANE', 'GO_INTRINSIC_COMPONENT_OF_SYNAPTIC_MEMBRANE', 'GO_CENTRAL_NERVOUS_SYSTEM_NEURON_DIFFERENTIATION']
hypo_nes = ['−1.47', '−1.48', '−1.48', '−1.51', '−1.52', '−1.54', '−1.55', '−1.59', '−1.63', '−1.63']
hypo_gaps = [
    [],
    [(1350, 1600), (2900, 3100), (3300, 3400)],
    [],
    [(1200, 1700), (1900, 2300), (2500, 2700)],
    [(900, 1100), (1300, 1500), (1700, 1800), (2600, 3200), (4800, 5000), (5300, 5400)],
    [(300, 400), (1600, 2150), (2250, 2400), (2500, 2650), (2750, 2900), (3100, 4100), (5000, 5100), (5700, 5800), (6100, 6300)],
    [(1800, 1950), (2300, 2500), (3100, 3400), (3550, 3800)],
    [(1300, 1500), (2000, 2200), (2800, 3200), (3500, 3900), (4700, 5000), (5100, 5300)],
    [(0, 700), (800, 950), (1100, 1450), (2900, 3800), (4000, 4250), (4450, 4650), (4800, 5000), (7700, 7900)],
    [(350, 700), (1700, 2400), (4250, 5200), (5700, 5800)],
]
stat_rank = [0, 300, 800, 1300, 1800, 2300, 2800, 3500, 4500, 5500, 6500, 7500, 8500, 9250]
stat_val = [8, 6, 4, 3, 1.5, .8, -1, -2, -3.5, -5, -6.5, -8, -10, -13]


def pair(a, b):
    # hand read lists, keep only what lines up
    n = min(len(a), len(b))
    return np.array(a[:n], float), np.array(b[:n], float)


# ---------------------------------------------------------------- figure
fig = plt.figure(figsize=(W / 100, H / 100), dpi=100)
fig.patch.set_facecolor('white')


def axpx(x0, y0, x1, y1):
    return fig.add_axes([x0 / W, 1 - y1 / H, (x1 - x0) / W, (y1 - y0) / H])


def clean(ax, lw=1.4):
    ax.spines['top'].set_visible(False)
    ax.spines['right'].set_visible(False)
    ax.spines['left'].set_linewidth(lw)
    ax.spines['bottom'].set_linewidth(lw)
    ax.patch.set_alpha(0)


over = fig.add_axes([0, 0, 1, 1])
over.set_xlim(0, W)
over.set_ylim(H, 0)
over.axis('off')
over.set_zorder(20)


def txt(x, y, s, **kw):
    kw.setdefault('va', 'center')
    kw.setdefault('ha', 'left')
    kw.setdefault('fontsize', 12)
    return over.text(x, y, s, **kw)


def sq(x0, y0, x1, y1, c, **kw):
    kw.setdefault('lw', 0)
    over.add_patch(patches.Rectangle((x0, y0), x1 - x0, y1 - y0, facecolor=c, **kw))


def seg(x0, y0, x1, y1, c='k', lw=1.5, **kw):
    over.plot([x0, x1], [y0, y1], color=c, lw=lw, solid_capstyle='butt', **kw)


for lab, x, y in [('A', 0, 15), ('B', 393, 15), ('C', 819, 15), ('D', 1153, 15), ('E', 1, 523),
                  ('F', 0, 1319), ('G', 1165, 1319), ('H', 2, 1779), ('I', 835, 1779)]:
    txt(x, y, lab, fontsize=19, fontweight='bold')

# ---- A
ax = axpx(65, 39, 359, 343)
clean(ax)
ax.step(km_high_t, km_high_s, where='post', color='#C8553D', lw=2.4)
ax.step(km_low_t, km_low_s, where='post', color='#3F7FC1', lw=2.4)
ax.plot(*pair(cens_high_t, cens_high_s), '+', color='#C8553D', ms=6, mew=1.2)
ax.plot(*pair(cens_low_t, cens_low_s), '+', color='#3F7FC1', ms=7, mew=1.2)
ax.set_xlim(-6.1, 130)
ax.set_ylim(-.054, 1.047)
ax.set_xticks(risk_times)
ax.set_yticks([0, .25, .5, .75, 1])
ax.set_yticklabels(['0.00', '0.25', '0.50', '0.75', '1.00'])
ax.tick_params(labelsize=9.5, labelcolor='#555555', length=2.5, pad=1)
txt(205, 366, 'Time in month', ha='center', fontsize=10.5, color='#333333')
txt(22, 163, 'Survival probability', rotation=90, ha='center', fontsize=11.5)
txt(78, 289, 'HR=1.77', fontsize=13)
txt(78, 312, 'log−rank pvalue=0.0046', fontsize=13)
seg(219, 70, 233, 70, '#C8553D', 2.6)
seg(219, 90, 233, 90, '#3F7FC1', 2.6)
txt(237, 70, 'ECM high', fontsize=10, fontweight='bold')
txt(237, 90, 'ECM low', fontsize=10, fontweight='bold')

ax = axpx(65, 407, 359, 465)
clean(ax)
ax.set_xlim(-5.1, 131)
ax.set_ylim(-.65, 1.58)
for t, a, b in zip(risk_times, risk_high, risk_low):
    ax.text(t + 2.5, 1, str(a), ha='center', va='center', fontsize=11.5)
    ax.text(t + 2.5, 0, str(b), ha='center', va='center', fontsize=11.5)
ax.set_xticks(risk_times)
ax.set_yticks([])
ax.tick_params(labelsize=9.5, labelcolor='#555555', length=2.5, pad=1)
txt(65, 391, 'Number at risk', fontsize=12)
txt(209, 491, 'Time in month', ha='center', fontsize=12.5)
sq(39, 422, 56, 426, '#C8553D')
sq(39, 449, 56, 453, '#3F7FC1')

# ---- B
ax = axpx(430, 87, 776, 472)
clean(ax)
for i in range(5):
    yy = np.array(vio_y[i])
    ww = np.array(vio_w[i]) / 127.0
    ax.fill_betweenx(yy, i - ww, i + ww, facecolor=subtype_cols[i], edgecolor='k', lw=1)
    ax.plot([i, i], [box_lo[i], box_hi[i]], color='k', lw=1.1)
    ax.add_patch(patches.Rectangle((i - .095, box_q1[i]), .19, box_q3[i] - box_q1[i], fc='white', ec='k', lw=1, zorder=3))
    ax.plot([i - .095, i + .095], [box_med[i]] * 2, color='k', lw=1.3, zorder=4)
ax.plot(box_out_x, box_out_y, 'o', color='k', ms=3.5)
ax.set_xlim(-.6, 4.6)
ax.set_ylim(-.23, .4066)
ax.set_xticks(range(5))
ax.set_xticklabels(subtypes, fontsize=15)
ax.set_yticks([-.2, 0, .2, .4])
ax.set_yticklabels(['-0.2', '0.0', '0.2', '0.4'], fontsize=9.5, color='#555555')
ax.tick_params(axis='y', length=2, pad=1)
ax.tick_params(axis='x', length=3, pad=5)
txt(388, 270, 'ECMscore', rotation=90, ha='center', fontsize=11.5)
txt(517, 453, r'Kruskal-Wallis, p = 4.5×10$^{-9}$', fontsize=13.5, color='#333333')
txt(640, 39, 'Molecular Subtype', ha='center', fontsize=13, fontweight='bold')
for i, px, tx, yy in [(0, 566, 586, 61), (1, 630, 649, 61), (2, 502, 524, 87), (3, 616, 639, 87), (4, 677, 703, 87)]:
    sq(px, yy - 8.5, px + 17, yy + 8.5, subtype_cols[i], edgecolor='#333333')
    over.patches[-1].set_linewidth(1)
    txt(tx, yy, subtypes[i], fontsize=13.5)

# ---- C
ax = axpx(860, 77, 1121, 497)
clean(ax)
for i, (q1, med, q3, lo, hi, col) in enumerate([(6.24, 6.95, 8.77, 4.5, 12.45, '#4A62A0'), (5.33, 6.22, 7.1, 2.8, 9.15, '#EE5A3C')]):
    ax.plot([i, i], [lo, hi], color='#222222', lw=1)
    ax.add_patch(patches.Rectangle((i - .353, q1), .706, q3 - q1, fc=col, ec='#222222', lw=1.2, zorder=2))
    ax.plot([i - .353, i + .353], [med, med], color='#222222', lw=1.5, zorder=3)
cx, cy = pair(c_low_x, c_low_y)
ax.scatter(cx, cy, s=30, color='k', lw=0, zorder=5)
cx, cy = pair(c_high_x, c_high_y)
ax.scatter(cx + 1, cy, s=30, color='k', lw=0, zorder=5)
ax.set_xlim(-.6, 1.6)
ax.set_ylim(-.65, 13.04)
ax.set_xticks([0, 1])
ax.set_xticklabels(['low', 'high'], fontsize=15, color='#333333')
ax.set_yticks([0, 4, 8, 12])
ax.tick_params(axis='y', labelsize=10, labelcolor='#666666', length=2, pad=1)
ax.tick_params(axis='x', length=3, pad=3)
txt(820, 288, r'log$_2$(TMB)', rotation=90, ha='center', fontsize=12)
txt(874, 478, r'Wilcoxon, p = 2.9×10$^{-5}$', fontsize=12.5, color='#222222')
txt(876, 59, 'ECMlevel', fontsize=13)
for kx, tx, s, col in [(977, 1002, 'low', '#4A62A0'), (1040, 1066, 'high', '#EE5A3C')]:
    seg(kx + 9.5, 47, kx + 9.5, 68, '#222222', 1)
    sq(kx, 51, kx + 19, 65, col, edgecolor='#222222')
    over.patches[-1].set_linewidth(1)
    seg(kx, 58, kx + 19, 58, '#222222', 1.2)
    txt(tx, 59, s, fontsize=11)

# ---- D
ax = axpx(1192, 48, 1626, 491)
clean(ax)
for i in range(6):
    ax.scatter(*pair(d_x[i], d_y[i]), s=36, color=group_cols[i], lw=0, zorder=3)
ax.fill_between(d_fit_x, d_fit_lo, d_fit_hi, color='#888888', alpha=.42, lw=0, zorder=4)
ax.plot(d_fit_x, d_fit_y, color='#A6B4B6', lw=2.4, zorder=5)
ax.set_xlim(-.136, .318)
ax.set_ylim(-.59, 13.15)
ax.set_xticks([-.1, 0, .1, .2, .3])
ax.set_xticklabels(['-0.1', '0.0', '0.1', '0.2', '0.3'])
ax.set_yticks([0, 4, 8, 12])
ax.tick_params(axis='x', labelsize=12, labelcolor='#555555', length=3, pad=2)
ax.tick_params(axis='y', labelsize=13, labelcolor='#555555', length=3, pad=2)
txt(1415, 525, 'ECMscore', ha='center', fontsize=14)
txt(1159, 252, r'log$_2$(TMB)', rotation=90, ha='center', fontsize=13)
txt(1327, 57, r'$\mathit{R}$  =  −0.38 ,  $\mathit{p}$  =  6.4×10$^{-14}$', fontsize=14.5)
over.add_patch(patches.Rectangle((1198, 319), 112, 164, fc='white', ec='#BDBDBD', lw=1.6))
txt(1243, 340, 'Group', ha='center', fontsize=13, fontweight='bold')
for i, yy in enumerate([368, 388, 407, 425, 444, 463]):
    over.scatter([1212], [yy], s=34, color=group_cols[i], lw=0)
    txt(1227, yy, group_names[i], fontsize=12.5)


# ---- E
def parse_muts(s, n):
    row = np.zeros(n, int)
    for a, b, t in re.findall(r'(\d+)(?:-(\d+))?([a-z]?)', s):
        code = mut_letters.index(t or 'm') + 1
        row[int(a):int(b or a) + 1] = code
    return row


def parse_burden(s, n):
    out = []
    for tok in s.split():
        v, _, c = tok.partition('*')
        out += [int(v)] * int(c or 1)
    out = (out + [out[-1]] * n)[:n]
    return np.array(out, float)


def run_letters(s, n, fill):
    out = ''
    for tok in s.split():
        out += tok[0] * int(tok[1:])
    return (out + fill * n)[:n]


anno_pal = {'C': '#4A5FA0', 'E': '#E8553A', 'G': '#66BB6A', 'H': '#5BA8B8', 'M': '#9B72B0', 'N': '#ADADB0',
            'D': '#B0504A', 'I': '#4A5FA0', 'W': '#FFFFFF'}


def oncoplot(genes, pct, muts, burden, base, cap, sub, lau, anno_col, order, x0, x1, bx0, bx1, lab_x, pct_x, top_lab, brk_x, tick_x, num_x, bar_lab, anno_x, y_bot, anno_y0, anno_y1):
    n = 111 if top_lab == '5612' else 264
    mat = np.array([parse_muts(m, n) for m in muts])
    cmap = mcolors.ListedColormap([grey_cell] + mut_cols)
    ax = axpx(x0, 664, x1, y_bot)
    ax.imshow(mat, cmap=cmap, vmin=0, vmax=7, aspect='auto', interpolation='nearest')
    for r in range(1, 30):
        ax.axhline(r - .5, color='white', lw=.5, alpha=.7)
    ax.axis('off')
    rh = (y_bot - 664) / 30.0
    for r, g in enumerate(genes):
        txt(lab_x, 664 + rh * (r + .5), g, ha='right', fontsize=10.5, style='italic')
        txt(pct_x, 664 + rh * (r + .5), '%d%%' % pct[r], fontsize=10.5)
    # burden on top
    tot = parse_burden(burden, n)
    bs = np.minimum(parse_burden(base, n), tot)
    capv = np.zeros(n)
    for k, v in cap.items():
        capv[k] = v
    ax = axpx(x0, 564, x1, 654)
    xs = np.arange(n)
    ax.bar(xs, bs, width=.95, color=mut_cols[1], lw=0)
    ax.bar(xs, tot - bs - capv, bottom=bs, width=.95, color=mut_cols[0], lw=0)
    ax.bar(xs, capv, bottom=tot - capv, width=.95, color=mut_cols[4], lw=0)
    ax.set_xlim(-.5, n - .5)
    ax.set_ylim(0, int(top_lab))
    ax.axis('off')
    seg(brk_x, 564, brk_x, 654, 'k', 1.8)
    seg(tick_x, 564, brk_x, 564, 'k', 1.8)
    seg(tick_x, 654, brk_x, 654, 'k', 1.8)
    txt(num_x, 565, top_lab, ha='right', fontsize=12)
    txt(num_x, 654, '0', ha='right', fontsize=12)
    # per gene counts
    ax = axpx(bx0, 664, bx1, y_bot)
    left = np.zeros(30)
    for t in order:
        c = (mat == t + 1).sum(axis=1)
        ax.barh(np.arange(30), c, left=left, height=.9, color=mut_cols[t], lw=0)
        left = left + c
    ax.set_ylim(29.5, -.5)
    ax.set_xlim(0, left.max())
    ax.axis('off')
    seg(bx0, 659, bx1, 659, 'k', 1.8)
    seg(bx0, 649, bx0, 659, 'k', 1.8)
    seg(bx1, 649, bx1, 659, 'k', 1.8)
    txt(bx0, 628, '0', ha='center', fontsize=12)
    txt(bx1, 628, bar_lab, ha='center', fontsize=12)
    # annotation rows
    rows = [anno_col * n, run_letters(sub, n, 'C'), run_letters(lau, n, 'I')]
    img = np.array([[mcolors.to_rgb(anno_pal[c]) for c in r] for r in rows])
    ax = axpx(x0, anno_y0, x1, anno_y1)
    ax.imshow(img, aspect='auto', interpolation='nearest')
    ax.axis('off')
    hh = (anno_y1 - anno_y0) / 3.0
    for k, s in enumerate(['ECMlevel', 'Molecular.Subtype', 'Lauren.Class']):
        txt(anno_x, anno_y0 + hh * (k + .5), s, fontsize=11.5)


anno_pal['h'] = '#B0504A'
anno_pal['l'] = '#4C5F9E'
oncoplot(low_genes, low_pct, low_muts, low_burden, low_base, low_cap, low_subtype, low_lauren, 'l', [1, 2, 0, 3, 4, 5, 6],
         90, 443, 505, 614, 82, 447, '5612', 80, 69, 59, '62', 451, 1087, 1098, 1152)
oncoplot(high_genes, high_pct, high_muts, high_burden, high_base, high_cap, high_subtype, high_lauren, 'h', [0, 3, 4, 1, 2, 5, 6],
         711, 1373, 1435, 1621, 704, 1376, '3388', 701, 690, 679, '111', 1381, 1086, 1097, 1150)

txt(101, 1190, 'Mutation type', fontsize=13.5)
for idx, px, tx, yy in [(0, 99, 118, 1214), (3, 99, 118, 1239), (4, 99, 118, 1261),
                        (2, 327, 345, 1211), (5, 327, 345, 1234), (6, 327, 345, 1258), (1, 512, 531, 1212)]:
    sq(px, yy - 4.5, px + 9, yy + 4.5, mut_cols[idx])
    txt(tx, yy, mut_names[idx], fontsize=13.6)

txt(803, 1189, 'ECM level', fontsize=13.3)
for s, c, yy in [('high', '#B0504A', 1218), ('low', '#4C5F9E', 1241), ('NA', '#ADADB0', 1264)]:
    sq(815, yy - 4.5, 824, yy + 4.5, c)
    txt(833, yy, s, fontsize=13.3)
txt(949, 1189, 'Molecular Subtype', fontsize=13.3)
for s, c, px, yy in [('CIN', '#4A5FA0', 959, 1218), ('EBV', '#E8553A', 959, 1241), ('GS', '#66BB6A', 959, 1264),
                     ('HM−SNV', '#5BA8B8', 1045, 1218), ('MSI', '#9B72B0', 1045, 1241), ('NA', '#ADADB0', 1045, 1264)]:
    sq(px, yy - 4.5, px + 9, yy + 4.5, c)
    txt(px + 18, yy, s, fontsize=13.3)
txt(1172, 1189, 'Lauren Class', fontsize=13.3)
for s, c, yy in [('Diffuse Type', '#B0504A', 1218), ('Intestinal Type', '#4A5FA0', 1241), ('NA', '#ADADB0', 1264)]:
    sq(1181, yy - 4.5, 1190, yy + 4.5, c)
    txt(1199, yy, s, fontsize=13.4)

# ---- F
f_x0, f_x1 = 122, 1132
for e in chr_edges:
    seg(f_x0 + (e - 117) * 1.0412, 1372, f_x0 + (e - 117) * 1.0412, 1387, 'k', 1.4)
seg(f_x0, 1387, f_x1, 1387, '#555555', 2)
for i, (m, nm) in enumerate(zip(chr_mid, chr_names)):
    txt(f_x0 + (m - 117) * 1.0412, 1349 if i % 2 == 0 else 1364, nm, ha='center', fontsize=9, color='#222222')

for (y0, y1, ax_amp_x, ax_amp_y, ax_del_x, ax_del_y) in [(1388, 1503, low_amp_x, low_amp_y, low_del_x, low_del_y),
                                                        (1507, 1620, high_amp_x, high_amp_y, high_del_x, high_del_y)]:
    ax = axpx(f_x0, y0, f_x1, y1)
    ax.set_facecolor('#F7F6F6')
    ampx, ampy = pair(ax_amp_x, ax_amp_y)
    delx, dely = pair(ax_del_x, ax_del_y)
    ax.fill_between(ampx, 0, ampy, color='#E42528', lw=0)
    ax.fill_between(delx, 0, -dely, color='#174F91', lw=0)
    ax.axhline(0, color='#B5B5B5', lw=3.2)
    ax.set_xlim(117, 1087)
    ax.set_ylim(-1.72, 1.73)
    ax.set_xticks([])
    ax.set_yticks([])
    for sp in ax.spines.values():
        sp.set_linewidth(1.2)
sq(f_x0, 1503, f_x1, 1507, 'k')
sq(f_x0, 1619, f_x1, 1622, 'k')

ax = axpx(f_x0, 1622, f_x1, 1652)
ax.set_facecolor('#D0D1D3')
ax.vlines(diff_red, 0, 1, color='#E42528', lw=1.3)
ax.vlines(diff_blue, 0, 1, color='#2C6FB0', lw=1.3)
ax.set_xlim(117, 1087)
ax.set_ylim(0, 1)
ax.set_xticks([])
ax.set_yticks([])
for sp in ax.spines.values():
    sp.set_visible(False)

ax = axpx(f_x0, 1652, f_x1, 1698)
ax.set_facecolor('#F6F6F6')
lx, ly = pair(logp_x, logp_y)
ax.fill_between(lx, 0, ly, color='#2D2F7F', lw=0)
ax.plot(lx, ly, color='#2D2F7F', lw=.8)
ax.plot([133, 1067], [0, 0], color='#2D2F7F', lw=1.6)
ax.axhline(-4.75, color='#BBBBBB', lw=3)
ax.set_xlim(117, 1087)
ax.set_ylim(-5.5, 8.3)
ax.set_xticks([])
ax.set_yticks([])
for sp in ax.spines.values():
    sp.set_visible(False)

txt(114, 1441, 'ECM low', ha='right', fontsize=13.5)
txt(112, 1564, 'ECM high', ha='right', fontsize=13.5)
txt(115, 1633, 'Differential', ha='right', fontsize=13)
txt(112, 1678, r'-log$_{10}$pvalue', ha='right', fontsize=13)

# ---- G
ax = axpx(1226, 1326, 1592, 1699)
clean(ax)
for i in range(6):
    gx, gy = pair(g_x[i], g_y[i])
    ax.scatter(gx, gy * 1e7, s=28, color=group_cols[i], lw=0, zorder=3)
ax.fill_between(g_fit_x, np.array(g_fit_lo) * 1e7, np.array(g_fit_hi) * 1e7, color='#888888', alpha=.42, lw=0, zorder=4)
ax.plot(g_fit_x, np.array(g_fit_y) * 1e7, color='#A6B4B6', lw=2.2, zorder=5)
ax.set_xlim(-.137, .318)
ax.set_ylim(-.82e7, 17.2e7)
ax.set_xticks([-.1, 0, .1, .2, .3])
ax.set_xticklabels(['-0.1', '0.0', '0.1', '0.2', '0.3'])
ax.set_yticks([0, 5e7, 10e7, 15e7])
ax.set_yticklabels(['0', '5.0e+07', '1.0e+08', '1.5e+08'])
ax.tick_params(labelsize=9.5, labelcolor='#555555', length=2.5, pad=2)
txt(1408, 1723, 'ECMscore', ha='center', fontsize=14.5)
txt(1155, 1513, 'cnv', rotation=90, ha='center', fontsize=13)
txt(1243, 1353, r'$\mathit{R}$  =  −0.39 ,  $\mathit{p}$=8.1×10$^{-15}$', fontsize=11)
over.add_patch(patches.Rectangle((1481, 1339), 111, 135, fc='white', ec='#BDBDBD', lw=1.6))
txt(1528, 1358, 'Group', ha='center', fontsize=14, fontweight='bold')
for i, yy in enumerate([1384, 1399, 1415, 1430, 1446, 1462]):
    over.scatter([1492], [yy], s=20, color=group_cols[i], lw=0)
    txt(1503, yy, group_names[i], fontsize=13)

# ---- H
zcmap = mcolors.LinearSegmentedColormap.from_list('z', ['#1F4E96', '#7C90BF', '#FFFFFF', '#F59A84', '#E41F26'])
cgi_pal = {'I': '#3F5C9C', 'O': '#E9503A', 'G': '#6BBD6A', 'T': '#46A5B8'}
block_y = [(1931, 1941), (1945, 2113), (2117, 2156), (2161, 2199), (2204, 2225), (2230, 2347), (2351, 2393)]


def digits(rows, n):
    return (np.array([[int(c) for c in r.ljust(n, '4')[:n]] for r in rows]) - 4) / 2.0


for b, (y0, y1) in enumerate(block_y):
    ax = axpx(118, y0, 465, y1)
    ax.imshow(digits(block_left[b], 24), cmap=zcmap, vmin=-2, vmax=2, aspect='auto', interpolation='nearest')
    ax.axis('off')
    ax = axpx(469, y0, 616, y1)
    ax.imshow(digits(block_right[b], 10), cmap=zcmap, vmin=-2, vmax=2, aspect='auto', interpolation='nearest')
    ax.axis('off')
    sq(63, y0, 87, y1, feature_cols[block_feature[b]])
    letters = ''.join(t[0] * int(t[1:]) for t in block_cgi[b].split())
    ax = axpx(89, y0, 112, y1)
    ax.imshow(np.array([[mcolors.to_rgb(cgi_pal[c])] for c in letters]), aspect='auto', interpolation='nearest')
    ax.axis('off')
    sq(34, y0, 62, y1, 'k')

for s, x0, x1, n, y0, y1 in [(col_subtype_left, 118, 465, 200, 1899, 1925), (col_subtype_right, 469, 616, 85, 1899, 1925)]:
    ax = axpx(x0, y0, x1, y1)
    ax.imshow([[mcolors.to_rgb(anno_pal[c]) for c in run_letters(s, n, 'C')]], aspect='auto', interpolation='nearest')
    ax.axis('off')
sq(118, 1872, 465, 1897, '#3F5C9C')
sq(469, 1872, 616, 1897, '#E9503A')
txt(624, 1882, 'ECMlevel', fontsize=14.5)
txt(622, 1911, 'Molecular Subtype', fontsize=14.5)

# column tree, (left, right, top, left foot, right foot) in tree height
col_tree_x = [(329, 553, 1817, 1827, 1837), (219, 438, 1827, 1844, 1846), (125, 314, 1844, 1853, 1848), (191, 361, 1848, 1853, 1853),
              (416, 461, 1846, 1853, 1853), (499, 606, 1835, 1848, 1848), (484, 528, 1848, 1853, 1853), (596, 616, 1848, 1853, 1853)]
ax = axpx(118, 1812, 616, 1871)
ax.set_xlim(118, 616)
ax.set_ylim(1871, 1812)
ax.axis('off')
for l, r, t, fl, fr in col_tree_x:
    ax.plot([l, l, r, r], [fl, t, t, fr], color='k', lw=1.8, solid_joinstyle='miter')
ax.fill_between([117, 465], 1856, 1870, color='k', lw=0)
ax.fill_between([469, 616], 1856, 1870, color='k', lw=0)
ax.fill_between([125, 465], 1853, 1858, color='k', lw=0)

# row tree
for a, b, c, d in [(10, 1985, 10, 2205), (18, 1985, 34, 1985), (18, 1985, 18, 2035), (18, 1938, 34, 1938), (10, 2205, 34, 2214),
                   (18, 2136, 34, 2136), (18, 2180, 34, 2180), (18, 2136, 18, 2180), (10, 2160, 18, 2160), (18, 2270, 34, 2270), (18, 2372, 34, 2372), (18, 2270, 18, 2372),
                   (10, 2205, 10, 2320), (10, 2320, 18, 2320), (14, 1938, 14, 1985)]:
    seg(a, b, c, d, 'k', 1.5)

txt(628, 1954, 'feature', fontsize=12.5, fontweight='bold')
for i, yy in enumerate([1978, 1999, 2019, 2040, 2060, 2080, 2101]):
    sq(629, yy - 8.5, 646, yy + 8.5, feature_cols[i])
    txt(652, yy, feature_names[i], fontsize=12.5)
txt(628, 2129, 'cgi', fontsize=12.5, fontweight='bold')
for i, yy in enumerate([2152, 2173, 2194, 2214]):
    sq(629, yy - 8.5, 646, yy + 8.5, [cgi_pal['I'], cgi_pal['O'], cgi_pal['G'], cgi_pal['T']][i])
    txt(652, yy, cgi_names[i], fontsize=12.5)
txt(736, 1954, 'ECM level', fontsize=12.5, fontweight='bold')
for s, c, yy in [('high', '#3F5C9C', 1978), ('low', '#E9503A', 1999)]:
    sq(737, yy - 8.5, 754, yy + 8.5, c)
    txt(761, yy, s, fontsize=12.5)
txt(735, 2033, 'z−score', fontsize=12.5, fontweight='bold')
cax = axpx(735, 2046, 757, 2150)
cb = fig.colorbar(ScalarMappable(norm=mcolors.Normalize(-2, 2), cmap=zcmap), cax=cax, ticks=[-1.9, -1, 0, 1, 1.9])
cb.ax.set_yticklabels(['−2', '−1', '0', '1', '2'], fontsize=12.5)
cb.ax.tick_params(direction='in', color='white', length=4, pad=3)
cb.outline.set_visible(False)
txt(632, 2255, 'Molecular Subtype', fontsize=12.5, fontweight='bold')
for s, c, yy in zip(['CIN', 'EBV', 'GS', 'HM−SNV', 'MSI'], ['#3F5C9C', '#E9503A', '#6BBD6A', '#46A5B8', '#9068A8'], [2280, 2300, 2321, 2341, 2362]):
    sq(633, yy - 8.5, 650, yy + 8.5, c)
    txt(656, yy, s, fontsize=12.5)
txt(76, 2431, 'feature', rotation=90, ha='center', fontsize=14)
txt(103, 2411, 'cgi', rotation=90, ha='center', fontsize=14)

# ---- I
txt(953, 1788, 'CpG island enrichment in biological processes', fontsize=12.7, fontweight='bold')
txt(1354, 1790, '(ECM_high VS ECM_low)', fontsize=9.7)
hyper_y = [1847.5, 1877.3, 1907.5, 1937.3, 1967.6, 1998.3, 2028.6, 2058.4, 2088.6, 2118.9]
hypo_y = [2158.3, 2189, 2219.3, 2249.5, 2279.8, 2309.5, 2340.3, 2370.5, 2400.8, 2431]
name_x = 1285
tr = axpx(1289, 1800, 1452, 2466)
tr.set_xlim(0, 9250)
tr.set_ylim(2466, 1800)
tr.axis('off')
for i, yy in enumerate(hyper_y):
    rk = np.array(hyper_ranks[i])
    tall = rk < 1000
    tr.vlines(rk[tall], yy - 9, yy - 3, color='k', lw=1)
    tr.vlines(rk[~tall], yy - 4, yy - 2, color='k', lw=1)
    txt(name_x, yy, hyper_names[i], ha='right', fontsize=9, linespacing=1.25)
    txt(1478, yy, hyper_nes[i], ha='center', fontsize=10)
    txt(1533, yy, hyper_pval[i], ha='center', fontsize=10)
    txt(1599, yy, hyper_fdr[i], ha='center', fontsize=10)
tr.vlines([5360], 1818, 1821, color='k', lw=1)
for i, yy in enumerate(hypo_y):
    y0 = yy - 1
    tr.fill_between(stat_rank, y0, y0 - np.array(stat_val), color='k', lw=0)
    for a, b in hypo_gaps[i]:
        tr.fill_between([a, b], y0 - 12, y0 + 15, color='white', lw=0)
    txt(name_x, yy, hypo_names[i], ha='right', fontsize=9)
    txt(1478, yy, hypo_nes[i], ha='center', fontsize=10)
    txt(1533, yy, '1.0e−10', ha='center', fontsize=10)
    txt(1599, yy, '2.3e−08', ha='center', fontsize=10)
for s, xx in [('NES', 1475), ('pval', 1532), ('FDR', 1598)]:
    txt(xx, 1817, s, ha='center', fontsize=9.5, fontweight='bold')
seg(1323, 1800, 1321, 2466, '#444444', 1)
seg(845, 2136, 1622, 2136, '#333333', 1)
txt(1320, 1822, 'Genes hypermethylated', ha='right', fontsize=9.5, fontweight='bold', color='#F02020')
txt(1324, 2457, 'Genes hypomethylated', fontsize=9.5, fontweight='bold', color='#2A3FA8')
txt(848, 1947, 'Hypermethylated gene sets', rotation=90, ha='center', fontsize=13.3, fontweight='bold', color='#F02020')
txt(850, 2286, 'Hypomethylated gene sets', rotation=90, ha='center', fontsize=13.5, fontweight='bold', color='#2A3FA8')
rk_ax = axpx(1289, 2466, 1452, 2472)
rk_ax.set_xlim(0, 9250)
rk_ax.set_yticks([])
rk_ax.set_xticks([0, 2500, 5000, 7500])
rk_ax.tick_params(labelsize=8, labelcolor='#444444', length=2, pad=1)
for k in ['top', 'left', 'right']:
    rk_ax.spines[k].set_visible(False)
rk_ax.patch.set_alpha(0)
txt(1367, 2495, 'Gene ranks', ha='center', fontsize=8.5)

fig.savefig('out.png', dpi=100)
